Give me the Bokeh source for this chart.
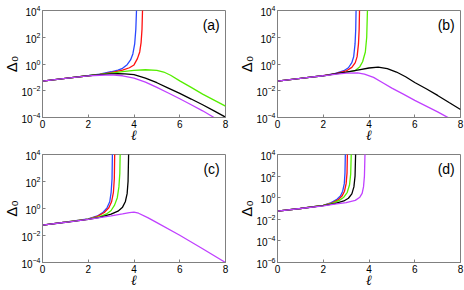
import math
from bokeh.plotting import figure
from bokeh.layouts import gridplot
from bokeh.models import FixedTicker, Label, Range1d
from bokeh.embed import file_html
from bokeh.resources import INLINE

# ---------------- data: ell values and log10(Delta_0) ----------------
# panel (a)
a_blue_ell = [0, 1, 2, 2.5, 3, 3.3, 3.5, 3.7, 3.85, 3.95, 4.03, 4.08, 4.12]
a_blue_log = [-1.28, -1.08, -0.87, -0.76, -0.58, -0.45, -0.32, -0.05, 0.3, 0.75, 1.5, 2.6, 4.5]
a_red_ell = [0, 1, 2, 2.5, 3, 3.5, 3.8, 4.0, 4.15, 4.25, 4.31, 4.35, 4.38]
a_red_log = [-1.28, -1.08, -0.88, -0.77, -0.64, -0.45, -0.28, -0.07, 0.4, 0.9, 1.6, 2.6, 4.5]
a_green_ell = [0, 1, 2, 2.5, 3, 3.5, 4, 4.5, 5, 5.3, 5.6, 6, 6.5, 7, 7.5, 8]
a_green_log = [-1.28, -1.08, -0.88, -0.78, -0.68, -0.57, -0.47, -0.43, -0.47, -0.6, -0.84, -1.26, -1.75, -2.25, -2.7, -3.15]
a_black_ell = [0, 1, 2, 2.5, 3, 3.3, 3.6, 4, 4.5, 5, 5.5, 6, 6.5, 7, 7.5, 8]
a_black_log = [-1.28, -1.08, -0.88, -0.79, -0.74, -0.73, -0.74, -0.8, -1.05, -1.4, -1.8, -2.2, -2.62, -3.05, -3.5, -3.97]
a_purple_ell = [0, 1, 2, 2.5, 3, 3.5, 4, 4.5, 5, 5.5, 6, 6.5, 7, 7.5]
a_purple_log = [-1.28, -1.08, -0.89, -0.84, -0.82, -0.88, -1.05, -1.35, -1.75, -2.17, -2.6, -3.05, -3.5, -4.0]

# panel (b)
b_blue_ell = [0, 1, 2, 2.5, 2.9, 3.1, 3.25, 3.33, 3.39, 3.42, 3.44]
b_blue_log = [-1.28, -1.08, -0.87, -0.72, -0.5, -0.28, 0.1, 0.54, 1.5, 2.6, 4.5]
b_red_ell = [0, 1, 2, 2.5, 3.0, 3.25, 3.4, 3.48, 3.54, 3.57, 3.59]
b_red_log = [-1.28, -1.08, -0.87, -0.74, -0.52, -0.25, 0.1, 0.55, 1.5, 2.6, 4.5]
b_green_ell = [0, 1, 2, 2.5, 3, 3.4, 3.6, 3.72, 3.84, 3.9, 3.94]
b_green_log = [-1.28, -1.08, -0.88, -0.76, -0.62, -0.49, -0.2, 0.17, 0.9, 2.0, 4.5]
b_black_ell = [0, 1, 2, 2.5, 3, 3.5, 4, 4.4, 4.8, 5.2, 5.6, 6, 6.5, 7, 7.5, 8]
b_black_log = [-1.28, -1.08, -0.88, -0.74, -0.6, -0.45, -0.3, -0.24, -0.35, -0.6, -0.95, -1.38, -1.85, -2.35, -2.88, -3.4]
b_purple_ell = [0, 1, 2, 2.5, 3, 3.5, 3.8, 4.2, 4.6, 5, 5.5, 6, 6.5, 7, 7.5]
b_purple_log = [-1.28, -1.08, -0.88, -0.77, -0.68, -0.66, -0.75, -1.0, -1.4, -1.8, -2.25, -2.72, -3.15, -3.58, -4.05]

# panel (c)
c_blue_ell = [0, 1, 2, 2.4, 2.65, 2.82, 2.94, 3.0, 3.04, 3.06]
c_blue_log = [-1.23, -1.01, -0.77, -0.55, -0.28, 0.05, 0.5, 1.2, 2.2, 4.5]
c_red_ell = [0, 1, 2, 2.4, 2.7, 2.9, 3.02, 3.1, 3.14, 3.16]
c_red_log = [-1.23, -1.01, -0.78, -0.58, -0.3, 0.05, 0.5, 1.2, 2.2, 4.5]
c_green_ell = [0, 1, 2, 2.5, 2.8, 3.0, 3.15, 3.27, 3.34, 3.38, 3.40]
c_green_log = [-1.23, -1.01, -0.79, -0.6, -0.4, -0.15, 0.25, 0.8, 1.6, 2.6, 4.5]
c_black_ell = [0, 1, 2, 2.5, 3, 3.3, 3.5, 3.62, 3.7, 3.74, 3.77]
c_black_log = [-1.23, -1.02, -0.8, -0.66, -0.42, -0.2, 0.1, 0.5, 1.1, 2.0, 4.5]
c_purple_ell = [0, 1, 2, 3, 3.5, 3.8, 4.0, 4.2, 4.6, 5, 6, 7, 8]
c_purple_log = [-1.23, -1.02, -0.8, -0.55, -0.4, -0.3, -0.27, -0.35, -0.68, -1.05, -1.98, -2.98, -4.0]

# panel (d)
d_blue_ell = [0, 1, 2, 2.35, 2.6, 2.75, 2.85, 2.92, 2.95, 2.97]
d_blue_log = [-1.25, -1.0, -0.71, -0.45, -0.15, 0.15, 0.6, 1.3, 2.3, 4.5]
d_red_ell = [0, 1, 2, 2.4, 2.65, 2.82, 2.93, 3.0, 3.04, 3.06]
d_red_log = [-1.25, -1.0, -0.72, -0.48, -0.2, 0.15, 0.6, 1.3, 2.3, 4.5]
d_green_ell = [0, 1, 2, 2.4, 2.7, 2.9, 3.05, 3.15, 3.2, 3.23]
d_green_log = [-1.25, -1.0, -0.72, -0.52, -0.25, 0.05, 0.5, 1.2, 2.2, 4.5]
d_black_ell = [0, 1, 2, 2.5, 2.9, 3.1, 3.25, 3.34, 3.39, 3.42]
d_black_log = [-1.25, -1.0, -0.73, -0.55, -0.3, -0.05, 0.35, 1.0, 2.0, 4.5]
d_purple_ell = [0, 1, 2, 2.5, 3, 3.4, 3.6, 3.7, 3.76, 3.8, 3.83]
d_purple_log = [-1.25, -1.0, -0.75, -0.6, -0.45, -0.25, 0.05, 0.4, 1.0, 2.0, 4.5]

x_ticks = [0, 2, 4, 6, 8]
y_ticks_abc = [1e-4, 1e-2, 1e0, 1e2, 1e4]
y_ticks_d = [1e-6, 1e-4, 1e-2, 1e0, 1e2, 1e4]
panel_labels = ["(a)", "(b)", "(c)", "(d)"]
y_title = "Δ₀"
x_title = "ℓ"

colors = {"blue": "#2a48ff", "red": "#ff1010", "green": "#55ee00",
          "black": "#000000", "purple": "#c040ff"}
order = ["blue", "red", "green", "black", "purple"]

panels = {
    "a": {"blue": (a_blue_ell, a_blue_log), "red": (a_red_ell, a_red_log),
          "green": (a_green_ell, a_green_log), "black": (a_black_ell, a_black_log),
          "purple": (a_purple_ell, a_purple_log)},
    "b": {"blue": (b_blue_ell, b_blue_log), "red": (b_red_ell, b_red_log),
          "green": (b_green_ell, b_green_log), "black": (b_black_ell, b_black_log),
          "purple": (b_purple_ell, b_purple_log)},
    "c": {"blue": (c_blue_ell, c_blue_log), "red": (c_red_ell, c_red_log),
          "green": (c_green_ell, c_green_log), "black": (c_black_ell, c_black_log),
          "purple": (c_purple_ell, c_purple_log)},
    "d": {"blue": (d_blue_ell, d_blue_log), "red": (d_red_ell, d_red_log),
          "green": (d_green_ell, d_green_log), "black": (d_black_ell, d_black_log),
          "purple": (d_purple_ell, d_purple_log)},
}

FONT = "Liberation Sans"
GRAY = "#808080"


def style_axis(ax):
    ax.axis_line_color = GRAY
    ax.major_tick_line_color = GRAY
    ax.major_tick_in = 3
    ax.major_tick_out = 0
    ax.minor_tick_line_color = None
    ax.major_label_text_font = FONT
    ax.major_label_text_color = "black"
    ax.major_label_standoff = 2
    ax.major_label_text_font_size = "10px"
    ax.axis_label_text_color = "black"
    ax.axis_label_text_font_style = "normal"


def make_panel(key, label, yticks, width, height, bl, br, bt, bb):
    fh = height - bt - bb
    lo = math.log10(yticks[0])
    hi = math.log10(yticks[-1])
    px_y = fh / (hi - lo)      # px per decade

    p = figure(width=width, height=height, x_range=Range1d(0, 8),
               y_range=Range1d(yticks[0], yticks[-1]), y_axis_type="log",
               output_backend="svg", toolbar_location=None,
               min_border_left=bl, min_border_right=br,
               min_border_top=bt, min_border_bottom=bb)
    p.xgrid.visible = False
    p.ygrid.visible = False
    p.outline_line_color = GRAY
    p.background_fill_color = "white"
    p.border_fill_color = "white"
    p.xaxis.ticker = FixedTicker(ticks=x_ticks)
    p.yaxis.ticker = FixedTicker(ticks=yticks)
    style_axis(p.xaxis[0])
    style_axis(p.yaxis[0])

    p.yaxis.axis_label = y_title
    p.yaxis.axis_label_text_font = FONT
    p.yaxis.axis_label_text_font_size = "15px"
    p.yaxis.axis_label_standoff = -2
    p.xaxis.axis_label = x_title
    p.xaxis.axis_label_text_font = "DejaVu Serif"
    p.xaxis.axis_label_text_font_style = "italic"
    p.xaxis.axis_label_text_font_size = "14px"
    p.xaxis.axis_label_standoff = -4

    for name in order:
        ell, lg = panels[key][name]
        p.line(ell, [10 ** v for v in lg], line_color=colors[name], line_width=1.3)

    # panel tag, upper right inside the frame
    p.add_layout(Label(x=7.75, y=10 ** (hi - 14.5 / px_y), text=label,
                       text_align="right", text_baseline="middle",
                       text_font=FONT, text_font_size="14px", text_color="black"))
    return p


pa = make_panel("a", panel_labels[0], y_ticks_abc, 235, 145, 40, 10, 10, 27)
pb = make_panel("b", panel_labels[1], y_ticks_abc, 229, 145, 40, 4, 10, 27)
pc = make_panel("c", panel_labels[2], y_ticks_abc, 235, 145, 40, 10, 9, 28)
pd = make_panel("d", panel_labels[3], y_ticks_d, 229, 145, 40, 4, 9, 28)

grid = gridplot([[pa, pb], [pc, pd]], toolbar_location=None)

open("out.html", "w").write(file_html(grid, INLINE))
